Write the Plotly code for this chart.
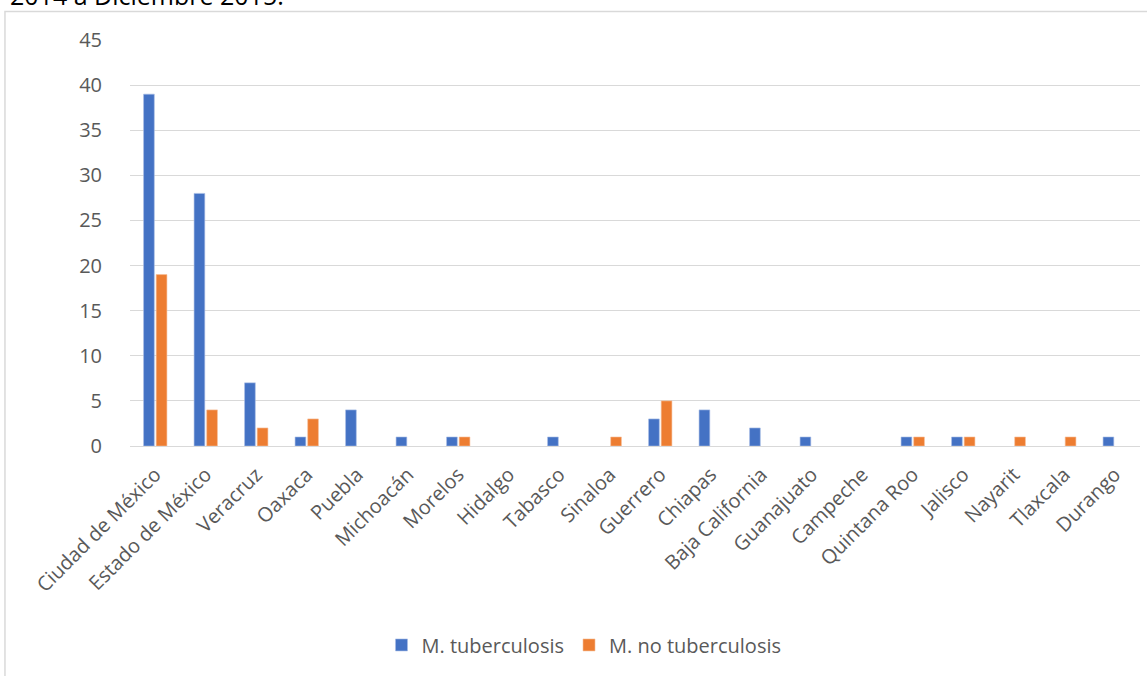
import plotly.graph_objects as go

categories = ["Ciudad de México", "Estado de México", "Veracruz", "Oaxaca", "Puebla",
              "Michoacán", "Morelos", "Hidalgo", "Tabasco", "Sinaloa", "Guerrero",
              "Chiapas", "Baja California", "Guanajuato", "Campeche", "Quintana Roo",
              "Jalisco", "Nayarit", "Tlaxcala", "Durango"]
tb = [39, 28, 7, 1, 4, 1, 1, 0, 1, 0, 3, 4, 2, 1, 0, 1, 1, 0, 0, 1]
ntb = [19, 4, 2, 3, 0, 0, 1, 0, 0, 1, 5, 0, 0, 0, 0, 1, 1, 1, 1, 0]
y_ticks = [0, 5, 10, 15, 20, 25, 30, 35, 40, 45]

FONT = "Open Sans, sans-serif"
GREY = "#595959"

def edge(vals):
    return [0.6 if v > 0 else 0 for v in vals]

fig = go.Figure()
fig.add_trace(go.Bar(x=categories, y=tb, name="M. tuberculosis",
                     marker=dict(color="#4472C4", line=dict(color="#A9BEE6", width=edge(tb)))))
fig.add_trace(go.Bar(x=categories, y=ntb, name="M. no tuberculosis",
                     marker=dict(color="#ED7D31", line=dict(color="#F6C09A", width=edge(ntb)))))

fig.update_layout(
    width=1147, height=676,
    margin=dict(l=130, r=7, t=40, b=230),
    paper_bgcolor="white", plot_bgcolor="white",
    barmode="group", bargap=0.5, bargroupgap=0.15,
    font=dict(family=FONT, size=20, color=GREY),
    showlegend=True,
    legend=dict(orientation="h", x=0.4495, xanchor="center", y=-0.49, yanchor="middle",
                font=dict(size=20, color=GREY), itemwidth=30, traceorder="normal"),
    xaxis=dict(tickangle=-45, showgrid=False, showline=False, ticks="",
               tickfont=dict(size=20, color=GREY), ticklabelstandoff=12),
    yaxis=dict(range=[0, 45], tickvals=y_ticks, showgrid=True, gridcolor="#D9D9D9",
               gridwidth=1, zeroline=True, zerolinecolor="#D9D9D9", zerolinewidth=1,
               ticks="", tickfont=dict(size=20, color=GREY), ticklabelstandoff=27),
    shapes=[dict(type="rect", xref="paper", yref="paper",
                 x0=-0.1238, x1=1.05, y0=-0.7, y1=1.0702,
                 line=dict(color="#D9D9D9", width=1.5), layer="below")],
    annotations=[dict(text="2014 a Diciembre 2015.", xref="paper", yref="paper",
                      x=-0.1208, xanchor="left", y=1.1108, yanchor="middle",
                      showarrow=False, font=dict(size=25, color="#000000", family=FONT))],
)
fig.write_html("out.html")
